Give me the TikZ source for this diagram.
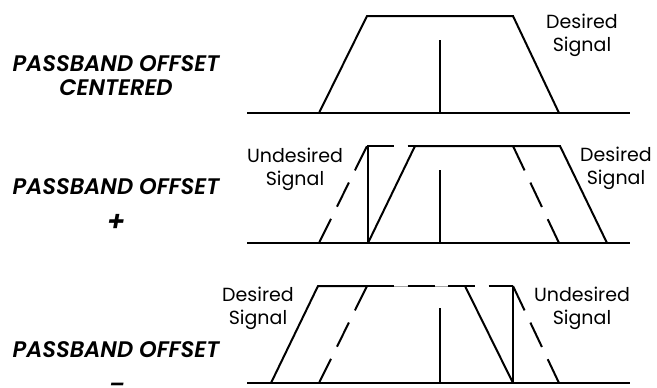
\documentclass[tikz,border=0pt]{standalone}
\usepackage{fontspec}
\setmainfont{Poppins}
\newfontfamily\lblfont{Poppins SemiBold Italic}
\begin{document}
\begin{tikzpicture}[x=1pt,y=-1pt,
  solidline/.style={line width=2pt,line join=miter},
  dashline/.style={line width=2pt,dash pattern=on 27pt off 13.5pt},
  thinline/.style={line width=0.6pt,black!35},
  siglabel/.style={font=\fontsize{19}{23}\selectfont,align=center,inner sep=0pt},
  rowlabel/.style={font=\fontsize{22.5}{26}\selectfont\lblfont,inner sep=0pt,anchor=center}]
\useasboundingbox (0,0) rectangle (657,388);
% ---------- Row 1 : centered ----------
\coordinate (b1l) at (247,113); \coordinate (b1r) at (630,113);
\coordinate (t1a) at (319,113); \coordinate (t1b) at (367,16);
\coordinate (t1c) at (513,16);  \coordinate (t1d) at (559,113);
\coordinate (c1b) at (440,113); \coordinate (c1t) at (440,40);
\draw[solidline] (b1l) -- (b1r);
\draw[solidline] (t1a) -- (t1b) -- (t1c) -- (t1d);
\draw[solidline] (c1b) -- (c1t);
\node[siglabel] (des1) at (582,35) {Desired\\Signal};
\node[rowlabel] (lab1a) at (116,64) {PASSBAND OFFSET};
\node[rowlabel] (lab1b) at (116,88) {CENTERED};
% ---------- Row 2 : offset + ----------
\coordinate (b2l) at (247,243); \coordinate (b2r) at (630,243);
\coordinate (d2a) at (368,243); \coordinate (d2b) at (415,146);
\coordinate (d2c) at (560,146); \coordinate (d2d) at (607,243);
\coordinate (u2a) at (319,243); \coordinate (u2b) at (367,146);
\coordinate (u2c) at (513,146); \coordinate (u2d) at (559,243);
\coordinate (v2t) at (368,146); \coordinate (v2b) at (368,243);
\coordinate (c2b) at (440,243); \coordinate (c2t) at (440,170);
\draw[solidline] (b2l) -- (b2r);
\draw[solidline] (d2a) -- (d2b) -- (d2c) -- (d2d);
\draw[dashline] (u2a) -- (u2b);
\draw[dashline] (u2b) -- (d2b);
\draw[dashline] (u2c) -- (u2d);
\draw[solidline] (v2t) -- (v2b);
\draw[solidline] (c2b) -- (c2t);
\node[siglabel] (und2) at (295,169) {Undesired\\Signal};
\node[siglabel] (des2) at (616,168) {Desired\\Signal};
\node[rowlabel] (lab2a) at (116,187) {PASSBAND OFFSET};
\node[rowlabel,font=\fontsize{28}{30}\selectfont\lblfont] (lab2b) at (116,223) {+};
% ---------- Row 3 : offset - ----------
\coordinate (b3l) at (247,383); \coordinate (b3r) at (630,383);
\coordinate (d3a) at (271,383); \coordinate (d3b) at (318,286);
\coordinate (d3c) at (465,286); \coordinate (d3d) at (513,383);
\coordinate (u3a) at (319,383); \coordinate (u3b) at (367,286);
\coordinate (u3c) at (513,286); \coordinate (u3d) at (559,383);
\coordinate (v3t) at (513,286); \coordinate (v3b) at (513,383);
\coordinate (c3b) at (440,383); \coordinate (c3t) at (440,308);
\draw[solidline] (b3l) -- (b3r);
\draw[thinline] (u3b) -- (d3c);
\draw[solidline] (d3a) -- (d3b) -- (u3b);
\draw[solidline] (d3c) -- (d3d);
\draw[dashline] (u3a) -- (u3b);
\draw[dashline] (u3b) -- (u3c);
\draw[dashline] (u3c) -- (u3d);
\draw[solidline] (v3t) -- (v3b);
\draw[solidline] (c3b) -- (c3t);
\node[siglabel] (des3) at (258,308) {Desired\\Signal};
\node[siglabel] (und3) at (582,308) {Undesired\\Signal};
\node[rowlabel] (lab3a) at (116,350) {PASSBAND OFFSET};
\node[rowlabel] (lab3b) at (117,388) {–};
\end{tikzpicture}
\end{document}
